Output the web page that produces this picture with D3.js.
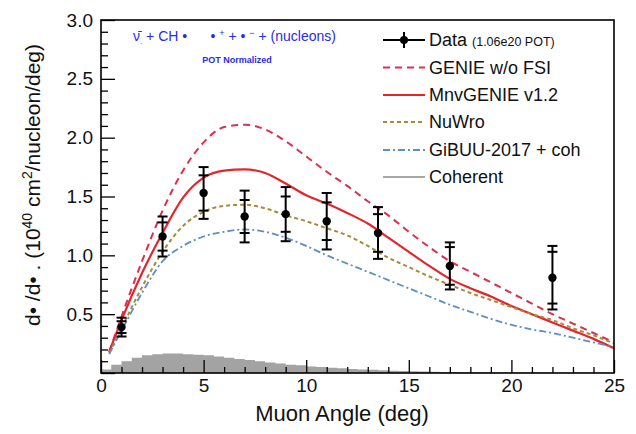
<!DOCTYPE html>
<html><head><meta charset="utf-8">
<script src="https://cdn.jsdelivr.net/npm/d3@7"></script>
<style>
body{margin:0;background:#fff;}
svg{display:block;font-family:"Liberation Sans",Arial,sans-serif;}
</style></head>
<body><svg id="c" width="636" height="434"></svg>
<script>
// ---------- data ----------
const curveX      = [0.4, 1, 2, 3, 4, 5, 6, 7, 8, 9, 10, 11, 12, 13, 14, 15, 16, 17, 18, 19, 20, 21, 22, 23, 24, 25];
const genieNoFSI  = [0.18,0.48,0.95,1.38,1.72,1.96,2.09,2.11,2.07,1.97,1.84,1.71,1.59,1.46,1.34,1.20,1.07,0.95,0.86,0.77,0.68,0.59,0.50,0.42,0.34,0.26];
const mnvGenie    = [0.18,0.45,0.85,1.19,1.49,1.66,1.72,1.73,1.70,1.61,1.51,1.44,1.36,1.27,1.15,1.03,0.91,0.80,0.72,0.65,0.57,0.50,0.43,0.36,0.29,0.21];
const nuWro       = [0.17,0.38,0.73,1.03,1.25,1.37,1.42,1.43,1.40,1.34,1.29,1.23,1.17,1.08,0.98,0.90,0.82,0.75,0.68,0.62,0.56,0.50,0.45,0.38,0.32,0.25];
const gibuu       = [0.16,0.36,0.68,0.95,1.08,1.16,1.20,1.22,1.20,1.15,1.08,1.00,0.93,0.86,0.79,0.72,0.65,0.58,0.52,0.46,0.41,0.37,0.34,0.30,0.26,0.22];

const dataX   = [1, 3, 5, 7, 9, 11, 13.5, 17, 22];
const dataY   = [0.39, 1.16, 1.53, 1.33, 1.35, 1.29, 1.19, 0.91, 0.81];
const statErr = [0.05, 0.12, 0.15, 0.14, 0.15, 0.16, 0.16, 0.16, 0.22];
const totErr  = [0.08, 0.17, 0.22, 0.22, 0.23, 0.24, 0.22, 0.20, 0.27];

const cohEdges = [0,0.5,1,1.5,2,2.5,3,3.5,4,4.5,5,5.5,6,6.5,7,7.5,8,8.5,9,9.5,10,10.5,11,11.5,12,12.5,13,13.5,14,14.5,15,15.5,16,16.5,17,17.5,18,19,20,21,22,23,24,25];
const cohVals  = [0.03,0.07,0.10,0.13,0.15,0.16,0.165,0.165,0.16,0.155,0.15,0.14,0.13,0.12,0.11,0.10,0.09,0.08,0.07,0.065,0.055,0.05,0.045,0.04,0.035,0.03,0.027,0.024,0.02,0.018,0.015,0.013,0.011,0.009,0.008,0.007,0.006,0.005,0.004,0.004,0.003,0.003,0.003];

const xTicks = [0,5,10,15,20,25];
const yTicks = [0,0.5,1.0,1.5,2.0,2.5,3.0];

const legendLabels = ["Data","GENIE w/o FSI","MnvGENIE v1.2","NuWro","GiBUU-2017 + coh","Coherent"];

// ---------- layout ----------
const svg = d3.select("#c");
const L = 101, T = 20, R = 614, B = 373;
const x = d3.scaleLinear().domain([0,25]).range([L,R]);
const y = d3.scaleLinear().domain([0,3]).range([B,T]);

svg.append("defs").append("clipPath").attr("id","clip")
  .append("rect").attr("x",L).attr("y",T).attr("width",R-L).attr("height",B-T);

const plot = svg.append("g").attr("clip-path","url(#clip)");

// coherent histogram
const cohPts = [];
cohVals.forEach((v,i)=>{ cohPts.push([cohEdges[i],v]); cohPts.push([cohEdges[i+1],v]); });
const area = d3.area().x(d=>x(d[0])).y0(y(0)).y1(d=>y(d[1]));
plot.append("path").datum(cohPts).attr("d",area).attr("fill","#a3a3a3").attr("stroke","none");

// curves
const line = d3.line().x(d=>x(d[0])).y(d=>y(d[1])).curve(d3.curveMonotoneX);
const styles = [
  {vals:genieNoFSI, color:"#db3050", w:2, dash:"7,5"},
  {vals:mnvGenie,   color:"#e3262e", w:2.2, dash:null},
  {vals:nuWro,      color:"#a78a3a", w:2, dash:"4,3"},
  {vals:gibuu,      color:"#5d8fbf", w:1.8, dash:"7,3,2,3"}
];
styles.forEach(s=>{
  const p = plot.append("path").datum(curveX.map((cx,i)=>[cx,s.vals[i]]))
    .attr("d",line).attr("fill","none").attr("stroke",s.color).attr("stroke-width",s.w);
  if(s.dash) p.attr("stroke-dasharray",s.dash);
});

// data points
const dg = svg.append("g");
const cap = 5;
dataX.forEach((dx,i)=>{
  const cx = x(dx);
  const yt = y(dataY[i]+totErr[i]), yb = y(dataY[i]-totErr[i]);
  const st = y(dataY[i]+statErr[i]), sb = y(dataY[i]-statErr[i]);
  dg.append("line").attr("x1",cx).attr("x2",cx).attr("y1",yt).attr("y2",yb).attr("stroke","#000").attr("stroke-width",2);
  [yt,yb,st,sb].forEach(yy=>{
    dg.append("line").attr("x1",cx-cap).attr("x2",cx+cap).attr("y1",yy).attr("y2",yy).attr("stroke","#000").attr("stroke-width",2);
  });
  dg.append("circle").attr("cx",cx).attr("cy",y(dataY[i])).attr("r",4.2).attr("fill","#000");
});

// axes
const fmtY = d => d===0 ? "" : d3.format(".1f")(d);
const yAx = svg.append("g").attr("transform",`translate(${L},0)`)
  .call(d3.axisLeft(y).tickValues(yTicks).tickSize(-14).tickPadding(8).tickFormat(fmtY));
const yMinor = svg.append("g").attr("transform",`translate(${L},0)`)
  .call(d3.axisLeft(y).tickValues(d3.range(0,3.001,0.1).filter(v=>Math.abs(v*2-Math.round(v*2))>1e-6)).tickSize(-7).tickFormat(""));
const xAx = svg.append("g").attr("transform",`translate(0,${B})`)
  .call(d3.axisBottom(x).tickValues(xTicks).tickSize(-13).tickPadding(6).tickFormat(d3.format("d")));
const xMinor = svg.append("g").attr("transform",`translate(0,${B})`)
  .call(d3.axisBottom(x).tickValues(d3.range(0,26,1).filter(v=>v%5!==0)).tickSize(-6).tickFormat(""));
[yAx,yMinor,xAx,xMinor].forEach(g=>{
  g.select(".domain").remove();
  g.selectAll(".tick line").attr("stroke","#000").attr("stroke-width",1.3);
  g.selectAll(".tick text").attr("font-size",19).attr("fill","#111").attr("font-family","Liberation Sans, Arial, sans-serif");
});

// frame
svg.append("rect").attr("x",L).attr("y",T).attr("width",R-L).attr("height",B-T)
  .attr("fill","none").attr("stroke","#000").attr("stroke-width",1.6);

// axis titles
svg.append("text").attr("x",342).attr("y",421).attr("text-anchor","middle")
  .attr("font-size",22).attr("fill","#111").text("Muon Angle (deg)");

const yt = svg.append("text").attr("transform","translate(40,185) rotate(-90)")
  .attr("text-anchor","middle").attr("font-size",21).attr("fill","#111");
yt.append("tspan").text("d• /d• . (10");
yt.append("tspan").attr("font-size",14).attr("dy",-8).text("40");
yt.append("tspan").attr("dy",8).text(" cm");
yt.append("tspan").attr("font-size",14).attr("dy",-8).text("2");
yt.append("tspan").attr("dy",8).text("/nucleon/deg)");

// annotation
const ann = svg.append("text").attr("x",133).attr("y",41).attr("font-size",14)
  .attr("fill","#2b2be6").style("white-space","pre");
ann.append("tspan").text("ν̄");
ann.append("tspan").attr("font-size",8).attr("dy",3).text(".");
ann.append("tspan").attr("dy",-3).text(" + CH •      • ");
ann.append("tspan").attr("font-size",9).attr("dy",-5).text("+");
ann.append("tspan").attr("dy",5).text(" + • ");
ann.append("tspan").attr("font-size",9).attr("dy",-5).text("−");
ann.append("tspan").attr("dy",5).text(" + (nucleons)");
svg.append("text").attr("x",237).attr("y",63).attr("text-anchor","middle").attr("font-size",9)
  .attr("font-weight","bold").attr("fill","#2b2be6").text("POT Normalized");

// legend
const rows = [40, 67.5, 95, 122, 150, 177];
const lg = svg.append("g");
const lx0 = 383, lx1 = 425, tx = 429;
// data entry
lg.append("line").attr("x1",lx0).attr("x2",lx1).attr("y1",rows[0]).attr("y2",rows[0]).attr("stroke","#000").attr("stroke-width",2);
lg.append("line").attr("x1",(lx0+lx1)/2).attr("x2",(lx0+lx1)/2).attr("y1",rows[0]-8).attr("y2",rows[0]+8).attr("stroke","#000").attr("stroke-width",2);
lg.append("circle").attr("cx",(lx0+lx1)/2).attr("cy",rows[0]).attr("r",4).attr("fill","#000");
const dt = lg.append("text").attr("x",tx).attr("y",rows[0]+6).attr("font-size",18).attr("fill","#111");
dt.append("tspan").text(legendLabels[0]+" ");
dt.append("tspan").attr("font-size",12.5).text("(1.06e20 POT)");
styles.forEach((s,i)=>{
  const l = lg.append("line").attr("x1",lx0).attr("x2",lx1).attr("y1",rows[i+1]).attr("y2",rows[i+1])
    .attr("stroke",s.color).attr("stroke-width",s.w);
  if(s.dash) l.attr("stroke-dasharray",s.dash);
  lg.append("text").attr("x",tx).attr("y",rows[i+1]+6).attr("font-size",18).attr("fill","#111").text(legendLabels[i+1]);
});
lg.append("line").attr("x1",lx0).attr("x2",lx1).attr("y1",rows[5]).attr("y2",rows[5]).attr("stroke","#8a8a8a").attr("stroke-width",1.5);
lg.append("text").attr("x",tx).attr("y",rows[5]+6).attr("font-size",18).attr("fill","#111").text(legendLabels[5]);
</script></body></html>
